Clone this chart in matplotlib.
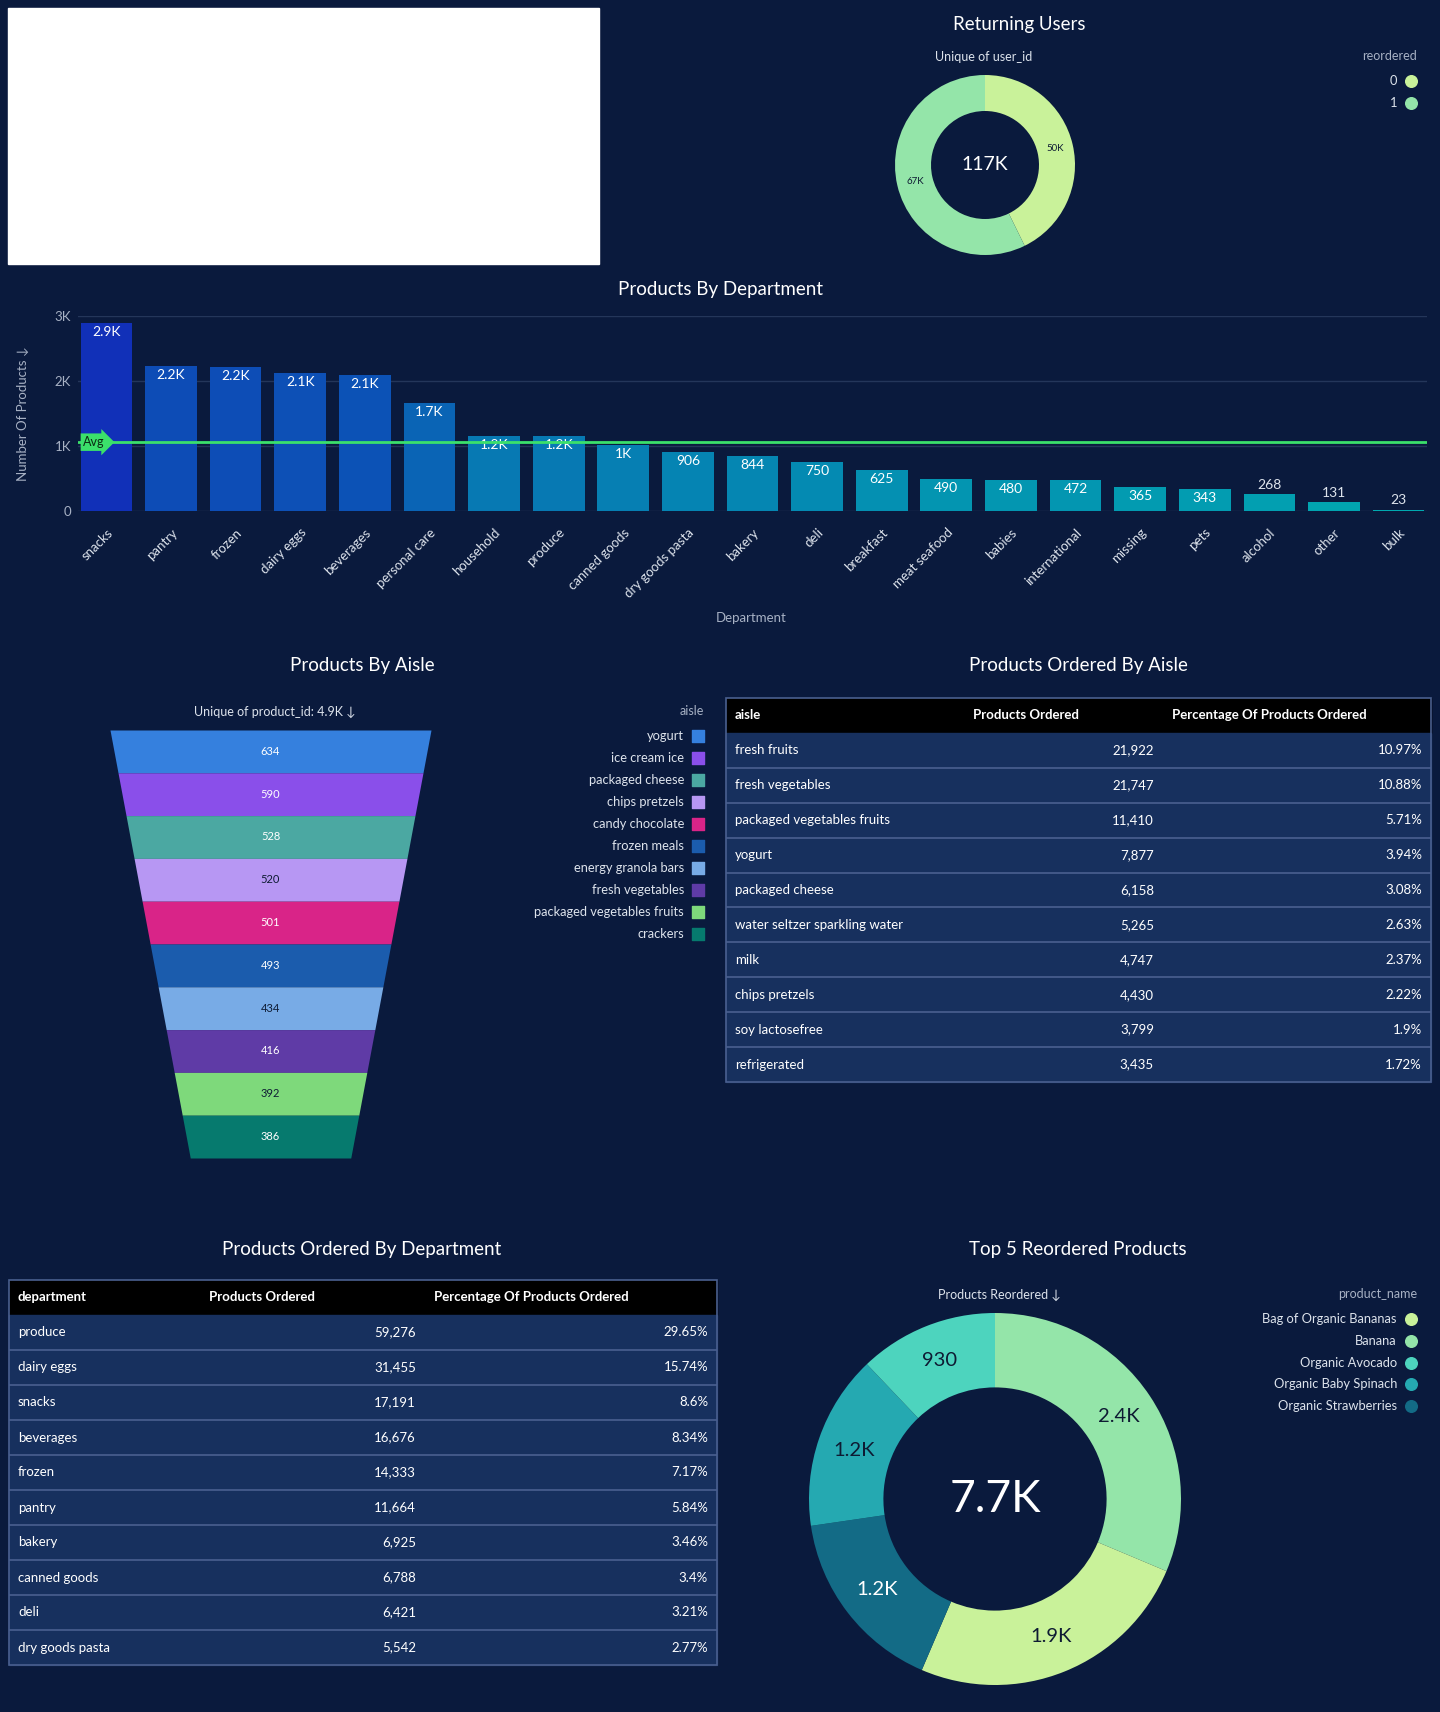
import numpy as np
import matplotlib.pyplot as plt
import matplotlib.transforms as mtransforms
from matplotlib.colors import to_rgb
from matplotlib.patches import Rectangle

W, H = 1440, 1712
BG = '#0A1A3D'
ROW_BG = '#17305E'
LINE = '#4A6090'
GRID = '#24365A'
MUTED = '#A7B1C4'
LIGHT = '#DDE3EC'
DARK = '#0E1B33'

plt.rcParams['font.family'] = ['Lato', 'DejaVu Sans']

# Returning users
reordered_flags = ['0', '1']
reordered_users = [50000, 67000]
reordered_colors = ['#C9F29A', '#94E5A9']

# Products by department
departments = ['snacks', 'pantry', 'frozen', 'dairy eggs', 'beverages', 'personal care',
               'household', 'produce', 'canned goods', 'dry goods pasta', 'bakery', 'deli',
               'breakfast', 'meat seafood', 'babies', 'international', 'missing', 'pets',
               'alcohol', 'other', 'bulk']
dept_products = [2895, 2230, 2210, 2130, 2090, 1660, 1160, 1155, 1010, 906, 844, 750,
                 625, 490, 480, 472, 365, 343, 268, 131, 23]

# Products by aisle (funnel)
aisles = ['yogurt', 'ice cream ice', 'packaged cheese', 'chips pretzels', 'candy chocolate',
          'frozen meals', 'energy granola bars', 'fresh vegetables',
          'packaged vegetables fruits', 'crackers']
aisle_products = [634, 590, 528, 520, 501, 493, 434, 416, 392, 386]
aisle_colors = ['#3580DE', '#8A4FEA', '#4BA8A2', '#B797F3', '#D92488',
                '#1B5CAD', '#78ABE6', '#5F3BA6', '#7ED97B', '#067A6E']

# Products ordered by aisle (table)
aisle_table_names = ['fresh fruits', 'fresh vegetables', 'packaged vegetables fruits', 'yogurt',
                     'packaged cheese', 'water seltzer sparkling water', 'milk',
                     'chips pretzels', 'soy lactosefree', 'refrigerated']
aisle_ordered = [21922, 21747, 11410, 7877, 6158, 5265, 4747, 4430, 3799, 3435]
aisle_ordered_pct = [10.97, 10.88, 5.71, 3.94, 3.08, 2.63, 2.37, 2.22, 1.9, 1.72]

# Products ordered by department (table)
dept_table_names = ['produce', 'dairy eggs', 'snacks', 'beverages', 'frozen', 'pantry',
                    'bakery', 'canned goods', 'deli', 'dry goods pasta']
dept_ordered = [59276, 31455, 17191, 16676, 14333, 11664, 6925, 6788, 6421, 5542]
dept_ordered_pct = [29.65, 15.74, 8.6, 8.34, 7.17, 5.84, 3.46, 3.4, 3.21, 2.77]

# Top 5 reordered products
product_names = ['Bag of Organic Bananas', 'Banana', 'Organic Avocado',
                 'Organic Baby Spinach', 'Organic Strawberries']
product_colors = ['#C9F29A', '#94E5A9', '#4DD4BE', '#25A9B1', '#136B86']
product_reorders = [1930, 2410, 930, 1170, 1250]


def fmt_k(v):
    if v >= 1000:
        return f'{v / 1000:.1f}'.rstrip('0').rstrip('.') + 'K'
    return str(int(v))


fig = plt.figure(figsize=(W / 100, H / 100), dpi=100, facecolor=BG)


def px_axes(x0, y0, x1, y1):
    return fig.add_axes([x0 / W, 1 - y1 / H, (x1 - x0) / W, (y1 - y0) / H])


# overlay in pixel coordinates for titles and legends
ov = px_axes(0, 0, W, H)
ov.set_xlim(0, W)
ov.set_ylim(H, 0)
ov.axis('off')

ov.add_patch(Rectangle((8, 8), 591, 256, color='white'))


def title(x, y, s):
    ov.text(x, y, s, ha='center', va='center', fontsize=13.5, color='white')


def subtitle(x, y, s):
    ov.text(x, y, s, ha='center', va='center', fontsize=9, color=LIGHT)


def legend(x_right, y0, step, title_txt, labels, colors, marker):
    ov.text(x_right + 6, y0 - 25, title_txt, ha='right', va='center', fontsize=9, color=MUTED)
    for i, (lab, col) in enumerate(zip(labels, colors)):
        y = y0 + i * step
        ov.text(x_right - 14, y, lab, ha='right', va='center', fontsize=9.3, color=LIGHT)
        ov.scatter([x_right], [y], s=70, marker=marker, color=col, zorder=3)


def donut(cx, cy, r, values, colors, label_colors, label_size, center_txt, center_size):
    ax = px_axes(cx - r, cy - r, cx + r, cy + r)
    wedges, texts = ax.pie(values, colors=colors, startangle=90, counterclock=False,
                           radius=1, labels=[fmt_k(v) for v in values], labeldistance=0.8,
                           wedgeprops=dict(width=0.4, linewidth=0))
    for t, c in zip(texts, label_colors):
        t.set_ha('center')
        t.set_va('center')
        t.set_fontsize(label_size)
        t.set_color(c)
    ax.text(0, 0, center_txt, ha='center', va='center', fontsize=center_size, color='white')
    ax.set_xlim(-1, 1)
    ax.set_ylim(-1, 1)
    return ax


# ---- Returning users ----
title(1019, 24, 'Returning Users')
subtitle(984, 57, 'Unique of user_id')
donut(985, 165, 90, reordered_users, reordered_colors, [DARK, DARK], 7,
      fmt_k(sum(reordered_users)), 14)
legend(1411, 81, 22, 'reordered', reordered_flags, reordered_colors, 'o')

# ---- Products by department ----
title(720, 289, 'Products By Department')
bax = px_axes(78, 316, 1427, 511)
bax.set_facecolor('none')
x = np.arange(len(departments))
vmax = max(dept_products)
lo, hi = np.array(to_rgb('#00AAB0')), np.array(to_rgb('#1130B8'))
bar_colors = [tuple(lo + (hi - lo) * v / vmax) for v in dept_products]
bax.bar(x, dept_products, width=0.8, color=bar_colors, zorder=2)
for xi, v in zip(x, dept_products):
    inside = v > 300
    bax.annotate(fmt_k(v), (xi, v), xytext=(0, -6.5 if inside else 6.5),
                 textcoords='offset points', ha='center', va='center',
                 fontsize=10, color='white' if inside else LIGHT, zorder=4)
avg = np.mean(dept_products)
bax.axhline(avg, color='#3BE06B', lw=2, zorder=5)
trans = mtransforms.blended_transform_factory(bax.transAxes, bax.transData)
bax.text(0.004, avg, 'Avg', transform=trans, ha='left', va='center', fontsize=9,
         color='#0B2A14', zorder=6,
         bbox=dict(boxstyle='rarrow,pad=0.22', fc='#3BE06B', ec='none'))
bax.set_xlim(-0.44, len(departments) - 0.56)
bax.set_ylim(0, 3000)
bax.set_yticks([0, 1000, 2000, 3000])
bax.set_yticklabels(['0', '1K', '2K', '3K'])
bax.set_xticks(x)
bax.set_xticklabels(departments, rotation=45, ha='right', va='top', rotation_mode='anchor')
bax.tick_params(axis='x', length=0, pad=11, labelsize=9.5, labelcolor=LIGHT)
bax.tick_params(axis='y', length=0, pad=5, labelsize=9.5, labelcolor=MUTED)
bax.yaxis.grid(True, color=GRID, lw=1)
bax.set_axisbelow(True)
for s in bax.spines.values():
    s.set_visible(False)
bax.set_ylabel('Number Of Products ↓', fontsize=9.5, color=MUTED)
bax.yaxis.set_label_coords(-0.036, 0.5)
bax.set_xlabel('Department', fontsize=9.5, color=MUTED)
bax.xaxis.set_label_coords(0.499, -0.52)

# ---- Products by aisle (funnel) ----
title(362, 666, 'Products By Aisle')
subtitle(275, 712, f'Unique of product_id: {fmt_k(sum(aisle_products))} ↓')
fax = px_axes(110, 730, 431, 1158)
n = len(aisle_products)
for i, (v, col) in enumerate(zip(aisle_products, aisle_colors)):
    hw = [1 - 0.5 * i / n, 1 - 0.5 * (i + 1) / n]
    fax.fill_betweenx([i, i + 1], [-hw[0], -hw[1]], hw, color=col, lw=0)
    lum = np.dot(to_rgb(col), [0.299, 0.587, 0.114])
    fax.text(0, i + 0.5, str(v), ha='center', va='center', fontsize=8,
             color=DARK if lum > 0.55 else 'white')
fax.set_xlim(-1, 1)
fax.set_ylim(n, 0)
fax.axis('off')
legend(698, 736, 21.95, 'aisle', aisles, aisle_colors, 's')


# ---- tables ----
def draw_table(x0, y0, x1, y1, first_col, names, counts, pcts, col_px):
    ax = px_axes(x0, y0, x1, y1)
    ax.axis('off')
    cells = [[nm, f'{c:,}', f'{p:g}%'] for nm, c, p in zip(names, counts, pcts)]
    tb = ax.table(cellText=cells,
                  colLabels=[first_col, 'Products Ordered', 'Percentage Of Products Ordered'],
                  colWidths=[w / (x1 - x0) for w in col_px], bbox=[0, 0, 1, 1])
    tb.auto_set_font_size(False)
    tb.set_fontsize(9.5)
    for (r, c), cell in tb.get_celld().items():
        cell.PAD = 9 / col_px[c]
        txt = cell.get_text()
        txt.set_color('white')
        if r == 0:
            cell.set_facecolor('black')
            cell.set_edgecolor('black')
            txt.set_fontweight('bold')
            txt.set_ha('left')
        else:
            cell.set_facecolor(ROW_BG)
            cell.set_edgecolor(ROW_BG)
            txt.set_ha('left' if c == 0 else 'right')
    nrows = len(names) + 1
    ax.hlines([k / nrows for k in range(1, nrows - 1)], 0, 1, transform=ax.transAxes,
              color=LINE, lw=1.2, zorder=10)
    ax.add_patch(Rectangle((0, 0), 1, 1, transform=ax.transAxes, fill=False,
                           ec=LINE, lw=1.2, clip_on=False, zorder=10))


title(1078, 666, 'Products Ordered By Aisle')
draw_table(726, 698, 1431, 1082, 'aisle', aisle_table_names, aisle_ordered,
           aisle_ordered_pct, [238, 199, 268])

title(362, 1249, 'Products Ordered By Department')
draw_table(9, 1280, 717, 1665, 'department', dept_table_names, dept_ordered,
           dept_ordered_pct, [191, 225, 292])

# ---- Top 5 reordered products ----
title(1078, 1249, 'Top 5 Reordered Products')
subtitle(999, 1295, 'Products Reordered ↓')
order = np.argsort(product_reorders)[::-1]
donut_vals = [product_reorders[i] for i in order]
donut_cols = [product_colors[i] for i in order]
donut_lbl_cols = ['white' if product_names[i] == 'Organic Strawberries' else DARK for i in order]
donut(995, 1499, 186, donut_vals, donut_cols, donut_lbl_cols, 14.5,
      fmt_k(sum(product_reorders)), 32)
legend(1411, 1319, 21.8, 'product_name', product_names, product_colors, 'o')

fig.savefig('out.png', dpi=100, facecolor=BG)
